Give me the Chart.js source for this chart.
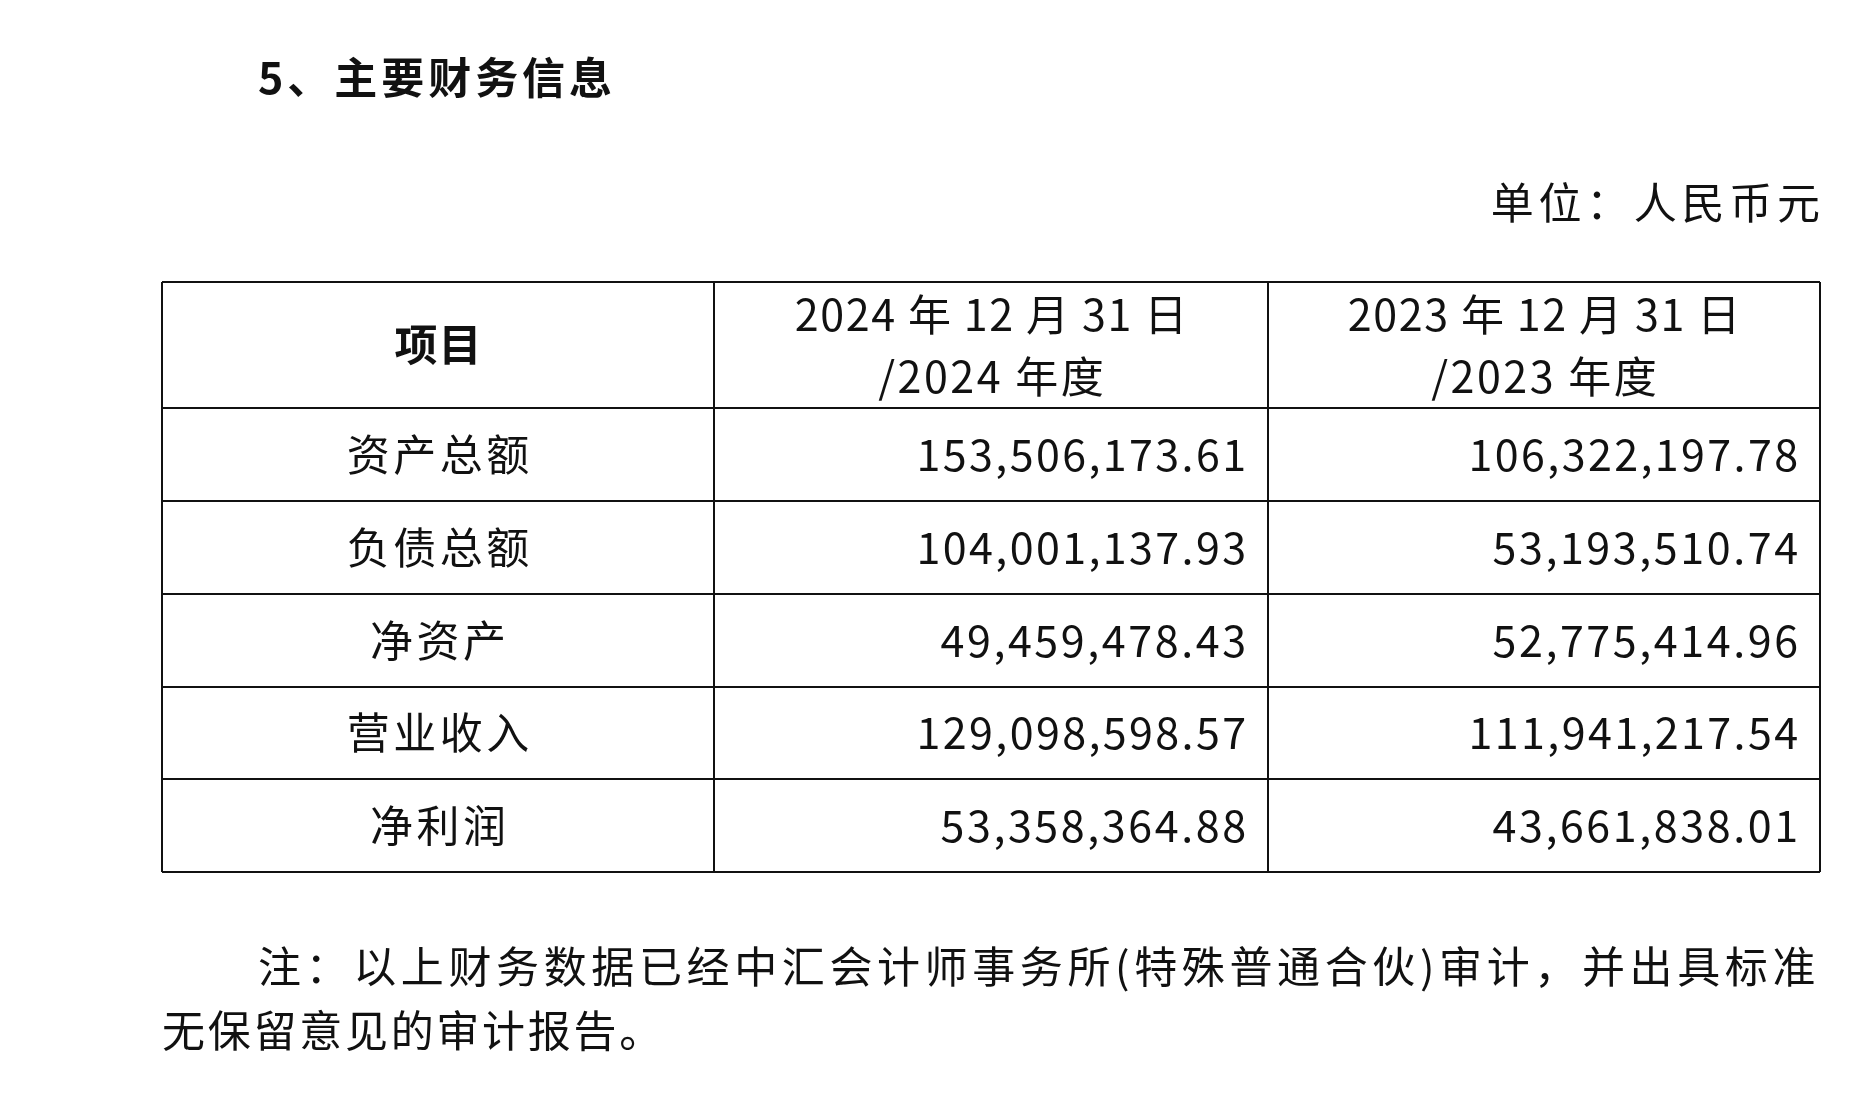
<!DOCTYPE html>
<html><head><meta charset="utf-8">
<script src="https://cdn.jsdelivr.net/npm/chart.js@4"></script>
<style>html,body{margin:0;padding:0;background:#fff}#wrap{width:1871px;height:1097px}</style>
</head><body><div id="wrap"><canvas id="c"></canvas></div>
<script>
const title = '5、主要财务信息';
const unitLabel = '单位：人民币元';
const headers = ['项目', ['2024 年 12 月 31 日', '/2024 年度'], ['2023 年 12 月 31 日', '/2023 年度']];
const items = ['资产总额', '负债总额', '净资产', '营业收入', '净利润'];
const values2024 = ['153,506,173.61', '104,001,137.93', '49,459,478.43', '129,098,598.57', '53,358,364.88'];
const values2023 = ['106,322,197.78', '53,193,510.74', '52,775,414.96', '111,941,217.54', '43,661,838.01'];
const note = ['注：以上财务数据已经中汇会计师事务所(特殊普通合伙)审计，并出具标准', '无保留意见的审计报告。'];

// layout in page units
const colEdges = [162, 714, 1268, 1820];
const rowEdges = [282, 408, 501, 594, 687, 779, 872];
const font = '"Noto Sans CJK SC", sans-serif';

// draw text with letter spacing so that its width is `w`
function spaced(ctx, text, x, y, w, align) {
  ctx.letterSpacing = '0px';
  const n = [...text].length;
  const base = ctx.measureText(text).width;
  const sp = w ? (w - base) / n : 0;
  ctx.letterSpacing = sp + 'px';
  const full = ctx.measureText(text).width;
  ctx.textAlign = 'left';
  let left = x;
  if (align === 'center') left = x - (full - sp) / 2;
  if (align === 'right') left = x - (full - sp);
  ctx.fillText(text, left, y);
  ctx.letterSpacing = '0px';
}

const tablePlugin = {
  id: 'table',
  afterDraw(chart) {
    const {ctx, scales: {x, y}} = chart;
    const X = v => x.getPixelForValue(v), Y = v => y.getPixelForValue(v);
    const mid = (a, b) => (a + b) / 2;
    ctx.save();
    ctx.fillStyle = '#111';
    ctx.textBaseline = 'middle';
    ctx.font = 'bold 43px ' + font;
    spaced(ctx, title, X(258), Y(78), 358, 'left');
    ctx.font = '43px ' + font;
    spaced(ctx, unitLabel, X(1820), Y(203), 334, 'right');
    // grid
    ctx.strokeStyle = '#111';
    ctx.lineWidth = 2;
    rowEdges.forEach(r => { ctx.beginPath(); ctx.moveTo(X(colEdges[0]), Y(r)); ctx.lineTo(X(colEdges[3]), Y(r)); ctx.stroke(); });
    colEdges.forEach(cx => { ctx.beginPath(); ctx.moveTo(X(cx), Y(rowEdges[0])); ctx.lineTo(X(cx), Y(rowEdges[6])); ctx.stroke(); });
    // header
    ctx.font = 'bold 43px ' + font;
    spaced(ctx, headers[0], X(mid(colEdges[0], colEdges[1])), Y(mid(rowEdges[0], rowEdges[1])), 88, 'center');
    [1, 2].forEach(i => {
      const cx = X(mid(colEdges[i], colEdges[i + 1]));
      ctx.font = '43px ' + font;
      spaced(ctx, headers[i][0], cx, Y(315), 394, 'center');
      spaced(ctx, headers[i][1], cx, Y(377), 228, 'center');
    });
    // rows
    ctx.font = '43px ' + font;
    items.forEach((name, r) => {
      const cy = Y(mid(rowEdges[r + 1], rowEdges[r + 2]));
      spaced(ctx, name, X(mid(colEdges[0], colEdges[1])), cy, name.length * 46.5, 'center');
      spaced(ctx, values2024[r], X(colEdges[2] - 22), cy, values2024[r].length * 23.7, 'right');
      spaced(ctx, values2023[r], X(colEdges[3] - 22), cy, values2023[r].length * 23.7, 'right');
    });
    spaced(ctx, note[0], X(258), Y(967), 1562, 'left');
    spaced(ctx, note[1], X(162), Y(1031), 503, 'left');
    ctx.restore();
  }
};

new Chart(document.getElementById('c'), {
  type: 'scatter',
  data: { datasets: [{ data: [], pointRadius: 0 }] },
  options: {
    responsive: true, maintainAspectRatio: false, animation: false,
    layout: { padding: 0 },
    plugins: { legend: { display: false }, tooltip: { enabled: false } },
    scales: {
      x: { type: 'linear', min: 0, max: 1871, display: false },
      y: { type: 'linear', min: 0, max: 1097, reverse: true, display: false }
    }
  },
  plugins: [tablePlugin]
});
</script></body></html>
